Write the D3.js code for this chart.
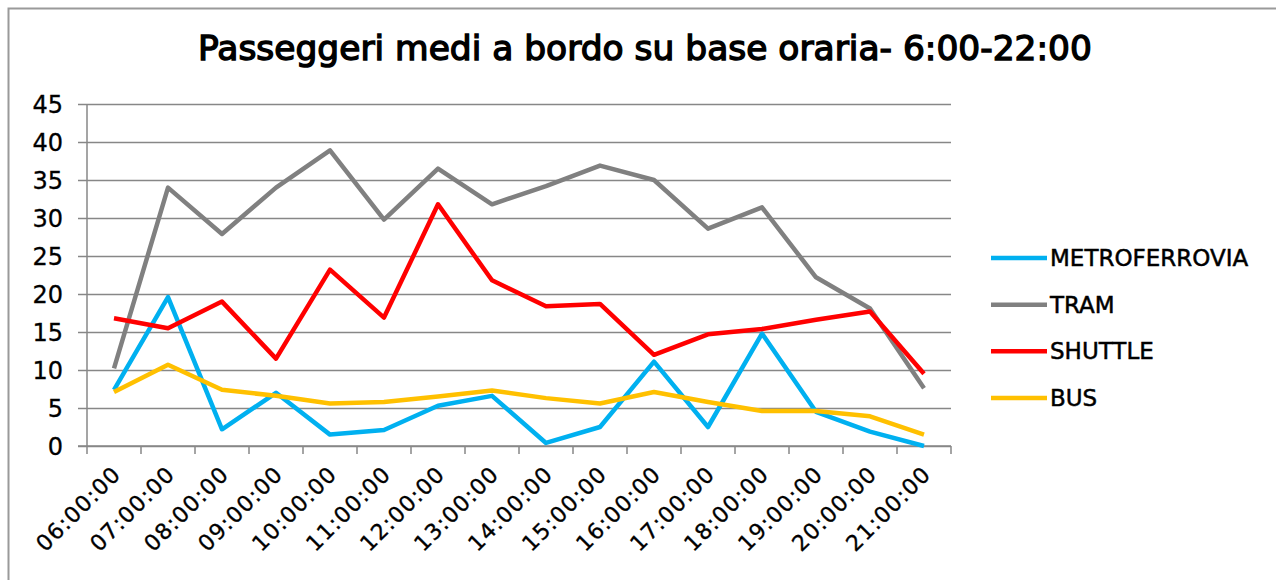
<!DOCTYPE html>
<html>
<head>
<meta charset="utf-8">
<script src="https://cdn.jsdelivr.net/npm/d3@7"></script>
<style>
  html, body { margin: 0; padding: 0; background: #fff; }
  svg { display: block; }
  text { font-family: "DejaVu Sans", Verdana, sans-serif; fill: #000; }
</style>
</head>
<body>
<svg id="chart" width="1276" height="580"></svg>
<script>
const title = "Passeggeri medi a bordo su base oraria- 6:00-22:00";
const categories = ["06:00:00","07:00:00","08:00:00","09:00:00","10:00:00","11:00:00","12:00:00","13:00:00",
                    "14:00:00","15:00:00","16:00:00","17:00:00","18:00:00","19:00:00","20:00:00","21:00:00"];
const seriesNames = ["METROFERROVIA", "TRAM", "SHUTTLE", "BUS"];
const metroferrovia = [7.4, 19.6, 2.2, 7.0, 1.5, 2.1, 5.3, 6.6, 0.4, 2.5, 11.1, 2.5, 14.8, 4.5, 1.9, 0.0];
const tram          = [10.2, 34.0, 27.9, 34.0, 38.9, 29.8, 36.5, 31.8, 34.2, 36.9, 35.0, 28.6, 31.4, 22.2, 18.1, 7.6];
const shuttle       = [16.8, 15.5, 19.0, 11.5, 23.2, 16.9, 31.8, 21.8, 18.4, 18.7, 12.0, 14.7, 15.4, 16.6, 17.7, 9.5];
const bus           = [7.1, 10.7, 7.4, 6.6, 5.6, 5.8, 6.5, 7.3, 6.3, 5.6, 7.1, 5.8, 4.6, 4.6, 3.9, 1.5];
const yTicks = [0, 5, 10, 15, 20, 25, 30, 35, 40, 45];
const colors = ["#00B0F0", "#808080", "#FF0000", "#FFC000"];

const seriesValues = [metroferrovia, tram, shuttle, bus];

const svg = d3.select("#chart");

// outer chart border
svg.append("rect")
  .attr("x", 8.5).attr("y", 8.5)
  .attr("width", 1300).attr("height", 620)
  .attr("fill", "none").attr("stroke", "#9a9a9a").attr("stroke-width", 2);

const plot = { left: 87, right: 951, top: 104, bottom: 446 };

const x = d3.scaleBand().domain(categories).range([plot.left, plot.right]).padding(0);
const y = d3.scaleLinear().domain([0, 45]).range([plot.bottom, plot.top]);

const gridColor = "#878787";

// gridlines + y axis
const yAxis = d3.axisLeft(y).tickValues(yTicks).tickSize(plot.right - plot.left + 9).tickPadding(16).tickFormat(d3.format("d"));
const gy = svg.append("g").attr("transform", `translate(${plot.right},0)`).call(yAxis);
gy.select(".domain").remove();
gy.selectAll(".tick line").attr("stroke", gridColor).attr("stroke-width", 1.5);
gy.selectAll(".tick text")
  .attr("x", -(plot.right - plot.left) - 24)
  .style("font-size", "24px").attr("dy", "0.35em")
  .attr("stroke", "#000").attr("stroke-width", 0.3);

// vertical axis line
svg.append("line")
  .attr("x1", plot.left).attr("x2", plot.left)
  .attr("y1", plot.top).attr("y2", plot.bottom)
  .attr("stroke", gridColor).attr("stroke-width", 1.5);

// x axis: tick marks at category boundaries
const boundaries = categories.map(c => x(c)).concat([plot.right]);
const gx = svg.append("g");
gx.append("line")
  .attr("x1", plot.left - 9).attr("x2", plot.right)
  .attr("y1", plot.bottom).attr("y2", plot.bottom)
  .attr("stroke", gridColor).attr("stroke-width", 1.5);
gx.selectAll("line.tk").data(boundaries).join("line")
  .attr("class", "tk")
  .attr("x1", d => d).attr("x2", d => d)
  .attr("y1", plot.bottom).attr("y2", plot.bottom + 8)
  .attr("stroke", gridColor).attr("stroke-width", 1.5);
gx.selectAll("text").data(categories).join("text")
  .attr("transform", d => `translate(${x(d) + x.bandwidth() / 2 + 3},${plot.bottom + 24}) rotate(-45)`)
  .attr("text-anchor", "end")
  .attr("dy", "0.35em")
  .style("font-size", "22px")
  .style("letter-spacing", "1.3px")
  .attr("stroke", "#000").attr("stroke-width", 0.35)
  .text(d => d);

// lines
const line = d3.line()
  .x((d, i) => x(categories[i]) + x.bandwidth() / 2)
  .y(d => y(d));

svg.append("g").selectAll("path").data(seriesValues).join("path")
  .attr("d", d => line(d))
  .attr("fill", "none")
  .attr("stroke", (d, i) => colors[i])
  .attr("stroke-width", 4.5)
  .attr("stroke-linejoin", "round")
  .attr("stroke-linecap", "butt");

// legend
const legendY = d3.scalePoint().domain(seriesNames).range([258, 398]);
const lg = svg.append("g");
lg.selectAll("line").data(seriesNames).join("line")
  .attr("x1", 991).attr("x2", 1047)
  .attr("y1", d => legendY(d)).attr("y2", d => legendY(d))
  .attr("stroke", (d, i) => colors[i]).attr("stroke-width", 4.5);
lg.selectAll("text").data(seriesNames).join("text")
  .attr("x", 1050).attr("y", d => legendY(d))
  .attr("dy", "0.35em")
  .style("font-size", "23px")
  .attr("stroke", "#000").attr("stroke-width", 0.5)
  .text(d => d);

// title
const t = svg.append("text")
  .attr("x", 645).attr("y", 60)
  .attr("text-anchor", "middle")
  .style("font-size", "31px")
  .attr("stroke", "#000").attr("stroke-width", 1.4)
  .text(title);
const w = t.node().getComputedTextLength();
t.style("font-size", (31 * 894 / w).toFixed(2) + "px");
</script>
</body>
</html>
